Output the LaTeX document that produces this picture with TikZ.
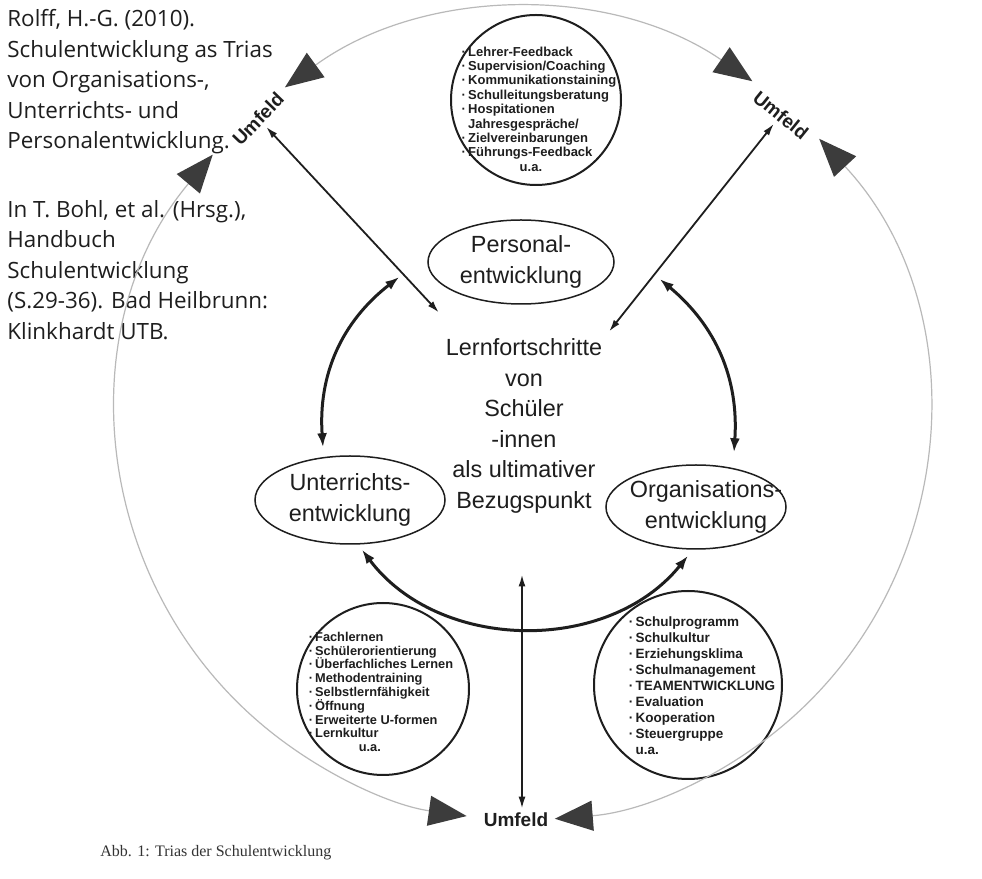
\documentclass[tikz,border=0pt]{standalone}
\usepackage{fontspec}
\setmainfont{Liberation Sans}
\newfontfamily\citefont{Open Sans}
\newfontfamily\capfont{Liberation Serif}
\usetikzlibrary{arrows.meta,shapes,positioning,calc}
\definecolor{ink}{HTML}{1E1E1E}
\definecolor{tipgray}{HTML}{3C3C3C}
\tikzset{
    ring/.style={{Triangle[length=19pt,width=15pt,color=tipgray]}-{Triangle[length=19pt,width=15pt,color=tipgray]}, draw=gray!55, line width=0.6pt},
    link/.style={{Latex[length=6pt,width=3.5pt]}-{Latex[length=6pt,width=3.5pt]}, line width=0.9pt, ink},
    swing/.style={{Latex[length=7pt,width=5pt]}-{Latex[length=7pt,width=5pt]}, line width=1.5pt, ink},
    field/.style={draw, ellipse, line width=0.75pt, inner xsep=-10pt, inner ysep=0pt, align=center, font=\fontsize{11.7}{15.5}\selectfont},
    listring/.style={draw, circle, line width=1pt, inner sep=0pt},
    listtext/.style={align=left, inner sep=0pt, font=\bfseries\fontsize{6.5}{7.2}\selectfont},
    umf/.style={font=\bfseries\fontsize{9.5}{11}\selectfont, inner sep=2pt}
}

\begin{document}
\begin{tikzpicture}[x=0.5pt, y=0.5pt, ink]
    \useasboundingbox[fill=white] (0,0) rectangle (982,879);
    \node[anchor=north west, align=left, inner sep=0pt, font=\citefont\fontsize{11.2}{15.25}\selectfont] (cite) at (7,870)
        {Rolff, H.-G. (2010).\\Schulentwicklung as Trias\\von Organisations-,\\Unterrichts- und\\Personalentwicklung.\\[19pt]In T. Bohl, et al. (Hrsg.),\\Handbuch\\Schulentwicklung\\(S.29-36). Bad Heilbrunn:\\Klinkhardt UTB.};

    \node[align=center, font=\fontsize{11.7}{15.3}\selectfont] (ctr) at (524,453)
        {Lernfortschritte\\von\\Schüler\\-innen\\als ultimativer\\Bezugspunkt};
    \node[field, minimum width=93pt, minimum height=42pt] (pers) at (521,617) {Personal-\\entwicklung};
    \node[field, minimum width=95pt, minimum height=44pt] (unt) at (350,379) {Unterrichts-\\entwicklung};
    \node[field, inner xsep=-13pt, minimum width=90pt, minimum height=42pt] (org) at (696,372) {\hspace*{10pt}Organisations-\\\hspace*{10pt}entwicklung};

    \node[listring, minimum size=85pt] (pe) at (536,779) {};
    \node[listtext] (pe-txt) at (539,770)
        {·\,Lehrer-Feedback\\·\,Supervision/Coaching\\·\,Kommunikationstaining\\·\,Schulleitungsberatung\\·\,Hospitationen\\\phantom{·\,}Jahresgespräche/\\·\,Zielvereinbarungen\\·\,Führungs-Feedback\\\hspace*{29pt}u.a.};
    \node[listring, minimum size=86pt] (ue) at (383,190) {};
    \node[listtext, font=\bfseries\fontsize{6.4}{6.9}\selectfont] (ue-txt) at (381,187)
        {·\,Fachlernen\\·\,Schülerorientierung\\·\,Überfachliches Lernen\\·\,Methodentraining\\·\,Selbstlernfähigkeit\\·\,Öffnung\\·\,Erweiterte U-formen\\·\,Lernkultur\\\hspace*{25pt}u.a.};
    \node[listring, minimum size=94pt] (oe) at (688,194) {};
    \node[listtext, font=\bfseries\fontsize{6.75}{8}\selectfont] (oe-txt) at (702,193)
        {·\,Schulprogramm\\·\,Schulkultur\\·\,Erziehungsklima\\·\,Schulmanagement\\·\,TEAMENTWICKLUNG\\·\,Evaluation\\·\,Kooperation\\·\,Steuergruppe\\\phantom{·\,}u.a.};

    \node[umf, rotate=46] (umfl) at (258,760) {Umfeld};
    \node[umf, rotate=-39] (umfr) at (781,764) {Umfeld};
    \node[umf] (umfb) at (516,59) {Umfeld};

    \coordinate (o) at (523,464);
    \draw[ring] ([shift={(126:405)}]o) arc[start angle=126, end angle=55.5, radius=405];
    \draw[ring] ([shift={(140:405)}]o) arc[start angle=140, end angle=262, radius=405];
    \draw[ring] ([shift={(43:405)}]o) arc[start angle=43, end angle=-85.5, radius=405];

    \draw[link] ([yshift=9.5pt]ctr.north west) -- (umfl.south);
    \draw[link] (ctr.north east) -- (umfr.south);
    \draw[link] ([xshift=-1pt,yshift=-27pt]ctr.south) -- ([xshift=3pt]umfb.north);

    \draw[swing] ([shift={(-14pt,-7.5pt)}]pers.west) to[bend right=28] ([shift={(-13.5pt,4pt)}]unt.north);
    \draw[swing] ([shift={(22.5pt,-8.5pt)}]pers.east) to[bend left=27] ([shift={(19pt,6pt)}]org.north);
    \draw[swing] ([shift={(6pt,-2.5pt)}]unt.south) to[bend right=52] ([shift={(-4pt,-3pt)}]org.south);

    \node[anchor=base west, inner sep=0pt, font=\capfont\fontsize{8}{10}\selectfont, text=black!80] (cap) at (100,22) {Abb. 1: Trias der Schulentwicklung};
\end{tikzpicture}
\end{document}
